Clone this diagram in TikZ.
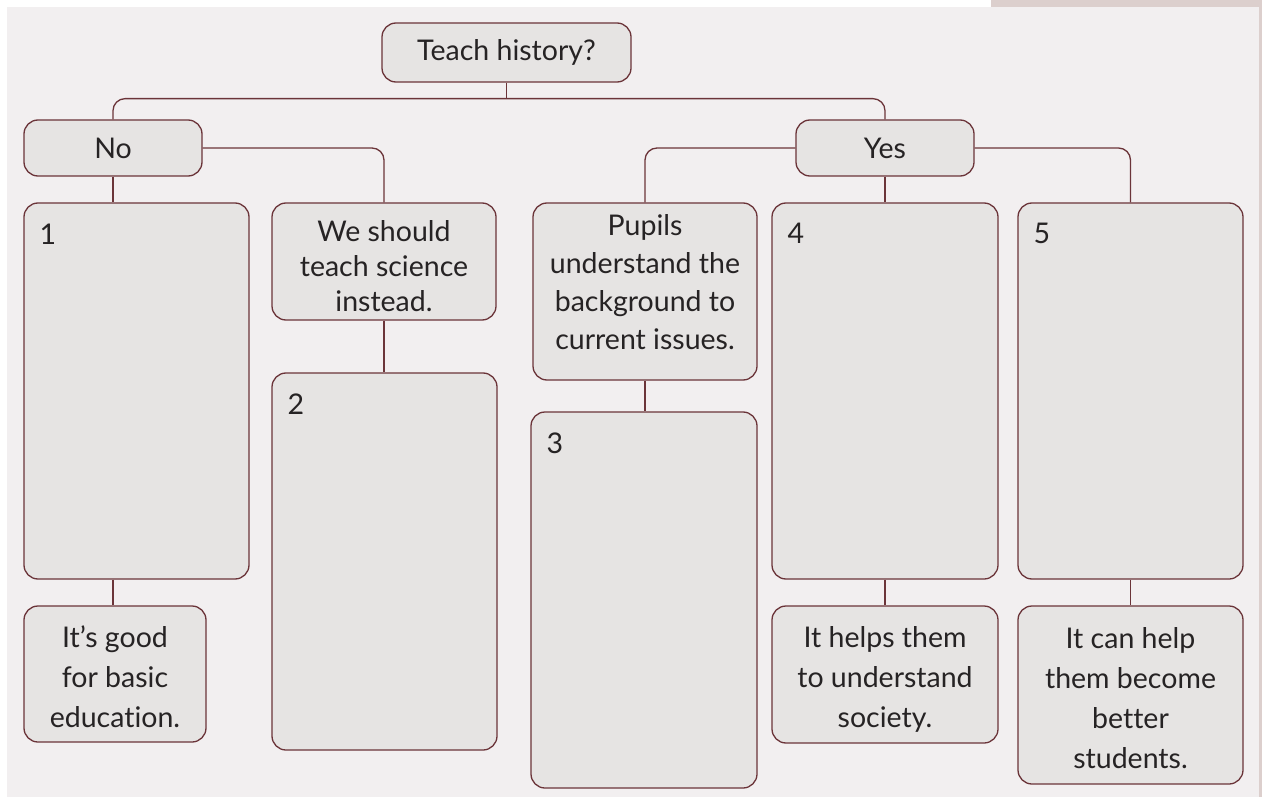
\documentclass[tikz,border=0pt]{standalone}
\usepackage{fontspec}
\setmainfont{Lato}[Ligatures={TeX,NoCommon}]
\usetikzlibrary{calc}
\definecolor{panel}{HTML}{F2EFF0}
\definecolor{strip}{HTML}{DCCFCD}
\definecolor{boxfill}{HTML}{E6E4E3}
\definecolor{boxline}{HTML}{6B3439}
\definecolor{ink}{HTML}{262324}
\tikzset{
  box/.style={draw=boxline,fill=boxfill,line width=1.3pt,rounded corners=14pt,inner sep=0pt},
  txt/.style={text=ink,align=center,inner sep=0pt},
  link/.style={draw=boxline,line width=1.3pt,rounded corners=12pt},
  num/.style={anchor=north west,inner sep=0pt,xshift=16pt,yshift=-21pt,text=ink}
}

\begin{document}
\begin{tikzpicture}[x=1pt,y=-1pt,font=\fontsize{28.5}{38}\selectfont]
    \useasboundingbox (0,0) rectangle (1262,797);
    \fill[white] (0,0) rectangle (1262,797);
    \fill[strip] (991,0) rectangle (1262,797);
    \fill[panel] (7,7) rectangle (1259,797);
      \node[box,txt,minimum width=249pt,minimum height=59pt] (q) at (506.5,52.5) {Teach history?};
      \node[box,txt,minimum width=178pt,minimum height=56pt] (no) at (113,148) {No};
      \node[box,txt,minimum width=178pt,minimum height=56pt] (yes) at (885,148) {Yes};
      \node[box,minimum width=225pt,minimum height=376pt,label={[num]north west:1}] (b1) at (136.5,391) {};
      \node[box,minimum width=224pt,minimum height=117pt] (sci) at (384,261.5) {};
      \node[box,minimum width=225pt,minimum height=377pt,label={[num]north west:2}] (b2) at (384.5,561.5) {};
      \node[box,minimum width=224pt,minimum height=177pt] (pup) at (645,291.5) {};
      \node[box,minimum width=226pt,minimum height=376pt,label={[num]north west:3}] (b3) at (644,600) {};
      \node[box,minimum width=226pt,minimum height=376pt,label={[num]north west:4}] (b4) at (885,391) {};
      \node[box,minimum width=225pt,minimum height=376pt,label={[num]north west:5}] (b5) at (1130.5,391) {};
      \node[box,minimum width=182pt,minimum height=136pt] (good) at (115,674) {};
      \node[box,minimum width=226pt,minimum height=137pt] (soc) at (885,674.5) {};
      \node[box,minimum width=225pt,minimum height=178pt] (stu) at (1130.5,695) {};
      \node[txt,font=\fontsize{28.5}{35}\selectfont] (scitext) at (384,266) {We should\\teach science\\instead.};
      \node[txt] (puptext) at (645,282) {Pupils\\understand the\\background to\\current issues.};
      \node[txt,font=\fontsize{28.5}{40}\selectfont] (goodtext) at (115,677) {It’s good\\for basic\\education.};
      \node[txt,font=\fontsize{28.5}{40}\selectfont] (soctext) at (885,679) {It helps them\\to understand\\society.};
      \node[txt,font=\fontsize{28.5}{40}\selectfont] (stutext) at (1130.5,698.5) {It can help\\them become\\better\\students.};
      \draw[link] (no.north) |- ($(q.south)+(0,16)$) -| (yes.north);
      \draw[link] (q.south) -- ++(0,16);
      \draw[link] (no.east) -| (sci.north);
      \draw[link] (yes.west) -| (pup.north);
      \draw[link] (yes.east) -| (b5.north);
      \draw[link] (yes.south) -- (b4.north);
      \draw[link] (no.south) -- (no.south |- b1.north);
      \draw[link] (b1.south -| no.south) -- (good.north -| no.south);
      \draw[link] (sci.south) -- (sci.south |- b2.north);
      \draw[link] (pup.south) -- (pup.south |- b3.north);
      \draw[link] (b4.south) -- (soc.north);
      \draw[link] (b5.south) -- (stu.north);
     \end{tikzpicture}
\end{document}
